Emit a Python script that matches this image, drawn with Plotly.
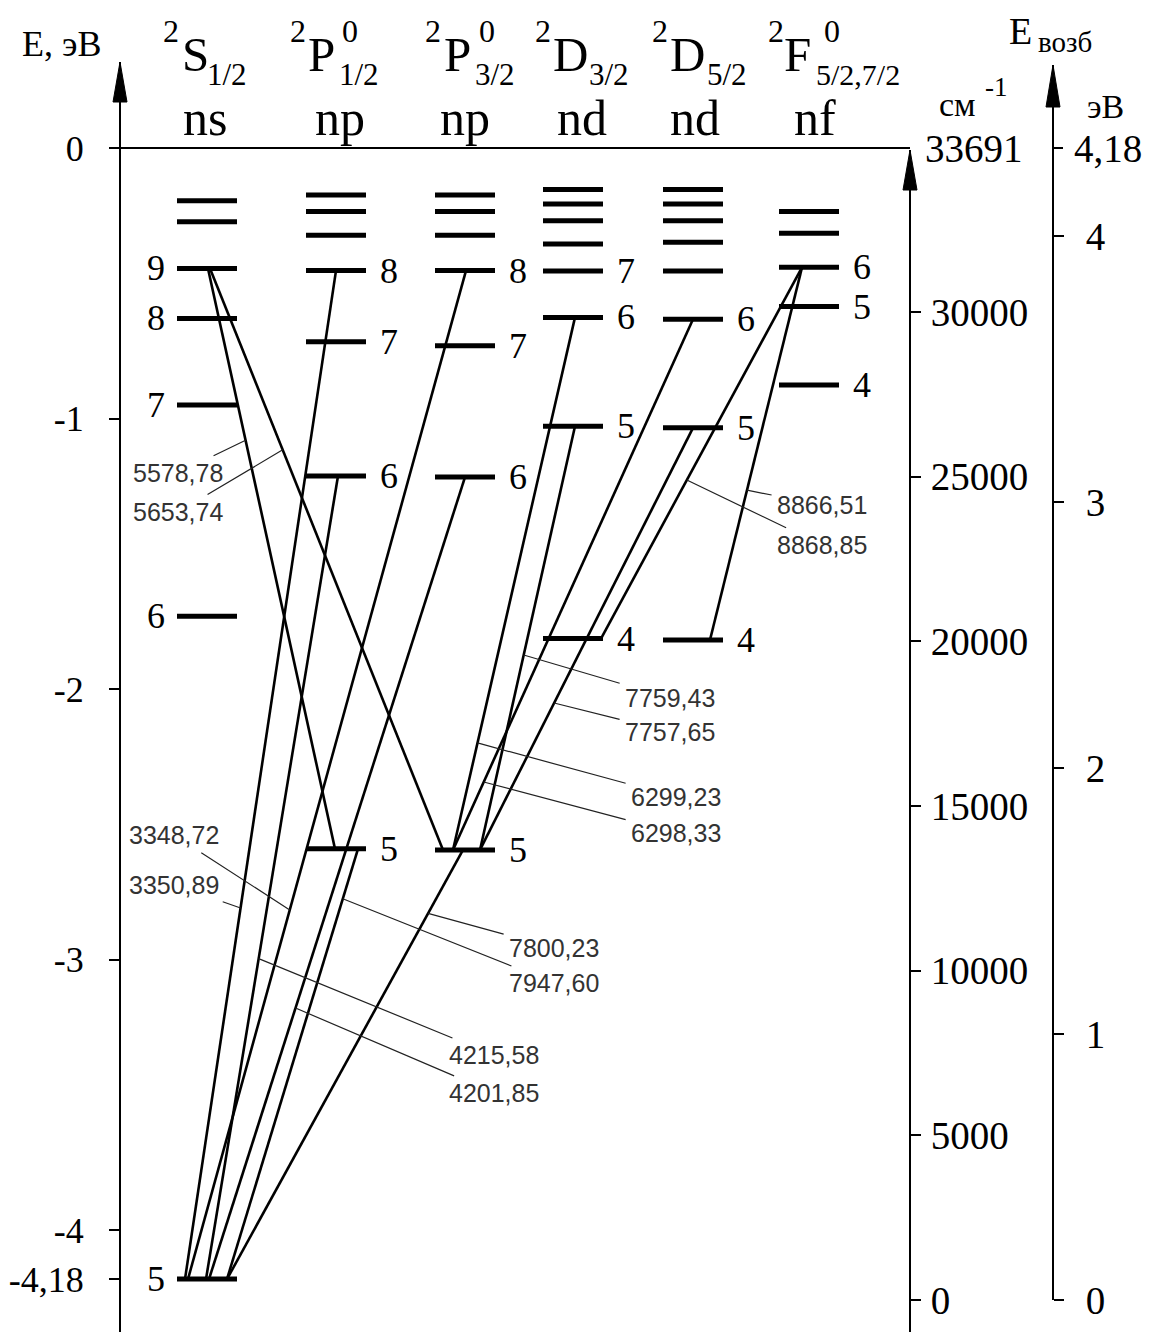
import plotly.graph_objects as go

W, H = 1154, 1332

# ---------------- data ----------------
# energy levels, eV relative to the ionization limit
S_n = [5, 6, 7, 8, 9, 10, 11]
S_E = [-4.18, -1.73, -0.95, -0.63, -0.445, -0.273, -0.195]
P12_n = [5, 6, 7, 8, 9, 10, 11]
P12_E = [-2.59, -1.212, -0.716, -0.453, -0.322, -0.235, -0.174]
P32_n = [5, 6, 7, 8, 9, 10, 11]
P32_E = [-2.594, -1.216, -0.731, -0.453, -0.322, -0.235, -0.174]
D32_n = [4, 5, 6, 7, 8, 9, 10, 11]
D32_E = [-1.813, -1.028, -0.626, -0.455, -0.355, -0.269, -0.207, -0.153]
D52_n = [4, 5, 6, 7, 8, 9, 10, 11]
D52_E = [-1.818, -1.034, -0.633, -0.455, -0.348, -0.269, -0.207, -0.153]
F_n = [4, 5, 6, 7, 8]
F_E = [-0.876, -0.586, -0.441, -0.315, -0.235]

# levels that carry a number in the diagram
S_lab = [5, 6, 7, 8, 9]
P12_lab = [5, 6, 7, 8]
P32_lab = [5, 6, 7, 8]
D32_lab = [4, 5, 6, 7]
D52_lab = [4, 5, 6]
F_lab = [4, 5, 6]

# transitions (upper -> lower) and their wavelengths, Å
TR_upper = [("S", 9), ("S", 9), ("P12", 8), ("P32", 8), ("P12", 6), ("P32", 6),
            ("P12", 5), ("P32", 5), ("D32", 6), ("D52", 6), ("D32", 5), ("D52", 5),
            ("F", 6), ("F", 6)]
TR_lower = [("P12", 5), ("P32", 5), ("S", 5), ("S", 5), ("S", 5), ("S", 5),
            ("S", 5), ("S", 5), ("P32", 5), ("P32", 5), ("P32", 5), ("P32", 5),
            ("D32", 4), ("D52", 4)]
TR_label = ["5578,78", "5653,74", "3350,89", "3348,72", "4215,58", "4201,85",
            "7947,60", "7800,23", "6299,23", "6298,33", "7759,43", "7757,65",
            "8868,85", "8866,51"]

# axis ticks
E_ticks = [0, -1, -2, -3, -4, -4.18]
E_ticktext = ["0", "-1", "-2", "-3", "-4", "-4,18"]
CM_ticks = [0, 5000, 10000, 15000, 20000, 25000, 30000]
EV_ticks = [0, 1, 2, 3, 4]
ION_CM = "33691"
ION_EV = "4,18"

# ---------------- layout constants ----------------
SERIF = "Liberation Serif"
SANS = "Liberation Sans"
Y0, K = 148.0, 270.6            # pixel of E=0, px per eV (left axis)
TOP_L = 62                      # top of the left axis (arrow tip)
CM0, CMK = 1300.0, 0.03293      # cm^-1 axis: pixel of 0, px per cm^-1
EV0, EVK = 1300.0, 266.0        # excitation eV axis
X_L, X_CM, X_EV = 120, 910, 1053
HALF = 30                       # half length of a level bar

levels = {"S": (S_n, S_E, S_lab), "P12": (P12_n, P12_E, P12_lab),
          "P32": (P32_n, P32_E, P32_lab), "D32": (D32_n, D32_E, D32_lab),
          "D52": (D52_n, D52_E, D52_lab), "F": (F_n, F_E, F_lab)}
COLX = {"S": 207, "P12": 336, "P32": 465, "D32": 573, "D52": 693, "F": 809}

# x positions of line ends on the bars (upper, lower)
TR_X = [(208, 335), (210, 443), (336, 185), (466, 188), (338, 206), (465, 209),
        (358, 227), (463, 227), (575, 453), (693, 453), (575, 480), (693, 480),
        (802, 601), (802, 710)]
# where the leader touches the line (fraction from upper end) and text centre (px)
LAB_T = [0.296, 0.312, 0.632, 0.634, 0.601, 0.662, 0.116, 0.148, 0.799, 0.872,
         0.54, 0.652, 0.573, 0.598]
LAB_XY = [(178, 473), (178, 512), (174, 885), (174, 835), (494, 1055), (494, 1093),
          (554, 983), (554, 948), (676, 797), (676, 833), (670, 698), (670, 732),
          (822, 545), (822, 505)]


def P(p):
    return 1 - p / H


def py(E):
    return Y0 - K * E


def energy(term, n):
    ns, Es, _ = levels[term]
    return Es[ns.index(n)]


fig = go.Figure()

# ionization limit line (E = 0)
fig.add_trace(go.Scatter(x=[X_L, X_CM], y=[0, 0], mode="lines",
                         line=dict(color="black", width=2), hoverinfo="skip",
                         showlegend=False))

# transitions
for i, (u, l) in enumerate(zip(TR_upper, TR_lower)):
    xu, xl = TR_X[i]
    fig.add_trace(go.Scatter(x=[xu, xl], y=[energy(*u), energy(*l)], mode="lines",
                             line=dict(color="black", width=2.6), hoverinfo="skip",
                             showlegend=False))

# level bars
for term, (ns, Es, labs) in levels.items():
    c = COLX[term]
    xs, ys = [], []
    for E in Es:
        xs += [c - HALF, c + HALF, None]
        ys += [E, E, None]
    fig.add_trace(go.Scatter(x=xs, y=ys, mode="lines",
                             line=dict(color="black", width=5), hoverinfo="skip",
                             showlegend=False))

# invisible traces to carry the right-hand axes
fig.add_trace(go.Scatter(x=[0], y=[0], yaxis="y2", mode="markers",
                         marker=dict(opacity=0), hoverinfo="skip", showlegend=False))
fig.add_trace(go.Scatter(x=[0], y=[0], yaxis="y3", mode="markers",
                         marker=dict(opacity=0), hoverinfo="skip", showlegend=False))

ann = []
# level numbers
for term, (ns, Es, labs) in levels.items():
    c = COLX[term]
    for n, E in zip(ns, Es):
        if n not in labs:
            continue
        if term == "S":
            ann.append(dict(x=c - HALF - 10, y=E, xref="x", yref="y", text=str(n),
                            showarrow=False, xanchor="right", yanchor="middle",
                            font=dict(family=SERIF, size=36, color="black")))
        else:
            ann.append(dict(x=c + HALF + 12, y=E, xref="x", yref="y", text=str(n),
                            showarrow=False, xanchor="left", yanchor="middle",
                            font=dict(family=SERIF, size=36, color="black")))

# wavelength labels with leader lines
for i, lab in enumerate(TR_label):
    xu, xl = TR_X[i]
    Eu, El = energy(*TR_upper[i]), energy(*TR_lower[i])
    t = LAB_T[i]
    x = xu + t * (xl - xu)
    E = Eu + t * (El - Eu)
    tx, ty = LAB_XY[i]
    ann.append(dict(x=x, y=E, xref="x", yref="y", text=lab, showarrow=True,
                    arrowhead=0, arrowwidth=1.2, arrowcolor="#222",
                    ax=tx - x, ay=ty - py(E), axref="pixel", ayref="pixel",
                    standoff=0, startstandoff=4,
                    font=dict(family=SANS, size=25, color="#333")))


# column headings
def txt(x, y, s, size, xa="center"):
    ann.append(dict(x=x, y=P(y), xref="x", yref="paper", text=s, showarrow=False,
                    xanchor=xa, yanchor="middle", borderpad=0,
                    font=dict(family=SERIF, size=size, color="black")))


heads = [  # x of "2", x of letter, letter, x of upper 0, x of lower index, index, x of n-row, n-row
    (171, 195, "S", None, 206, "1/2", 205, "ns"),
    (298, 321, "P", 350, 338, "1/2", 340, "np"),
    (433, 457, "P", 487, 474, "3/2", 465, "np"),
    (543, 570, "D", None, 588, "3/2", 582, "nd"),
    (660, 687, "D", None, 706, "5/2", 695, "nd"),
    (776, 797, "F", 832, 815, "5/2,7/2", 815, "nf"),
]
for x2, xl_, L, x0, xs, sub, xn, nrow in heads:
    txt(x2, 31, "2", 32)
    txt(xl_, 54, L, 49)
    if x0 is not None:
        txt(x0, 31, "0", 32)
    txt(xs, 74, sub, 30 if len(sub) > 3 else 31, xa="left")
    txt(xn, 118, nrow, 50)

txt(61, 44, "E, эВ", 36)
txt(1020, 31, "E", 38)
txt(1037, 42, "возб", 29, xa="left")
txt(957, 105, "см", 34)
txt(996, 87, "-1", 27)
txt(1105, 106, "эВ", 34)

right_font = dict(family=SERIF, size=39, color="black")
# ionization limit in the other units
ann.append(dict(x=X_CM + 14, y=0, xref="x", yref="y", text=ION_CM, showarrow=False,
                xanchor="left", yanchor="middle", borderpad=0, font=right_font))
ann.append(dict(x=X_EV + 20, y=0, xref="x", yref="y", text=ION_EV, showarrow=False,
                xanchor="left", yanchor="middle", borderpad=0, font=right_font))

shapes = [
    # tick of the 4,18 eV mark
    dict(type="line", xref="x", yref="y", x0=X_EV, x1=X_EV + 10, y0=0, y1=0,
         line=dict(color="black", width=2)),
    # axis arrowheads
    dict(type="path", xref="x", yref="paper",
         path=f"M {X_L-7},{P(102)} L {X_L},{P(TOP_L)} L {X_L+7},{P(102)} Z",
         fillcolor="black", line=dict(color="black", width=1)),
    dict(type="path", xref="x", yref="paper",
         path=f"M {X_CM-7},{P(190)} L {X_CM},{P(150)} L {X_CM+7},{P(190)} Z",
         fillcolor="black", line=dict(color="black", width=1)),
    dict(type="path", xref="x", yref="paper",
         path=f"M {X_EV-7},{P(107)} L {X_EV},{P(65)} L {X_EV+7},{P(107)} Z",
         fillcolor="black", line=dict(color="black", width=1)),
]

left_font = dict(family=SERIF, size=36, color="black")
fig.update_layout(
    width=W, height=H, margin=dict(l=0, r=0, t=0, b=0, autoexpand=False),
    paper_bgcolor="white", plot_bgcolor="rgba(0,0,0,0)",
    showlegend=False,
    xaxis=dict(range=[0, W], domain=[0, 1], visible=False, fixedrange=True),
    yaxis=dict(range=[(Y0 - H) / K, (Y0 - TOP_L) / K], domain=[0, 1 - TOP_L / H],
               anchor="free", position=X_L / W, side="left",
               showline=True, linecolor="black", linewidth=2,
               ticks="outside", ticklen=10, tickwidth=2, tickcolor="black",
               tickvals=E_ticks, ticktext=E_ticktext, tickfont=left_font,
               ticklabelstandoff=18, showgrid=False, zeroline=False),
    yaxis2=dict(range=[(CM0 - H) / CMK, (CM0 - 150) / CMK], domain=[0, 1 - 150 / H],
                anchor="free", position=X_CM / W, side="right",
                showline=True, linecolor="black", linewidth=2,
                ticks="outside", ticklen=10, tickwidth=2, tickcolor="black",
                tickvals=CM_ticks, ticktext=[str(v) for v in CM_ticks],
                tickfont=right_font, ticklabelstandoff=2,
                showgrid=False, zeroline=False),
    yaxis3=dict(range=[0, (EV0 - 65) / EVK], domain=[1 - EV0 / H, 1 - 65 / H],
                anchor="free", position=X_EV / W, side="right",
                showline=True, linecolor="black", linewidth=2,
                ticks="outside", ticklen=10, tickwidth=2, tickcolor="black",
                tickvals=EV_ticks, ticktext=[str(v) for v in EV_ticks],
                tickfont=right_font, ticklabelstandoff=14,
                showgrid=False, zeroline=False),
    annotations=ann,
    shapes=shapes,
)

fig.write_html(
    "out.html",
    config={"displayModeBar": False, "staticPlot": True},
    post_script="document.body.style.margin='0';document.body.style.padding='0';"
                "document.documentElement.style.overflow='hidden';",
)
